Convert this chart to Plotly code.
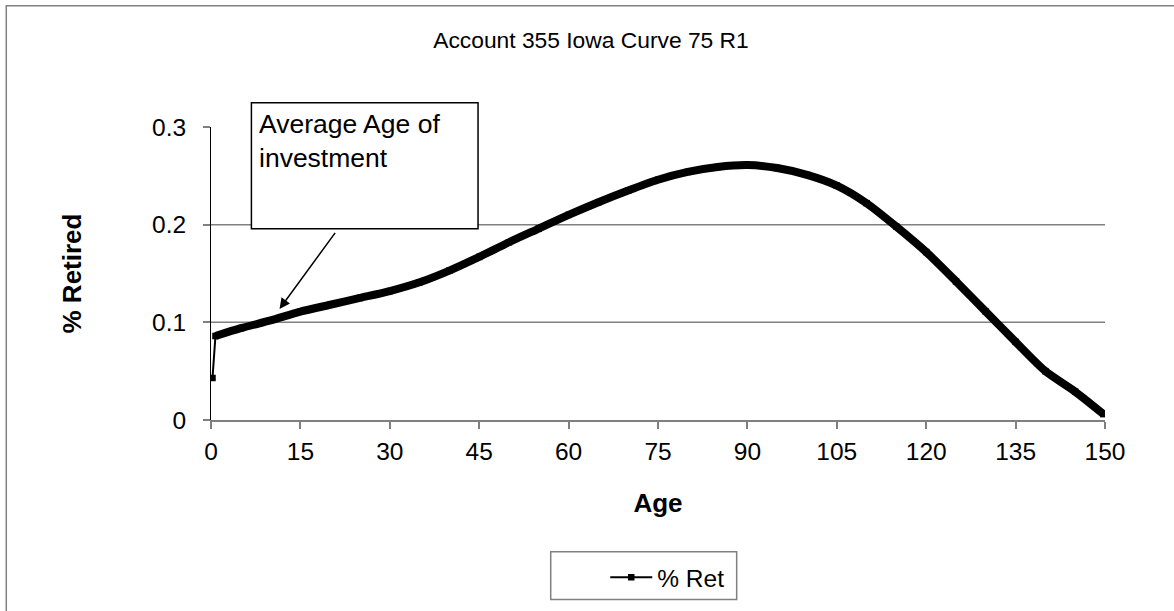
import plotly.graph_objects as go

# Data
ages = [0.25, 0.75, 5, 10, 15, 20, 25, 30, 35, 40, 45, 50, 55, 60, 65, 70, 75,
        80, 85, 90, 95, 100, 105, 110, 115, 120, 125, 130, 135, 140, 145, 149.75]
pct_retired = [0.043, 0.086, 0.094, 0.102, 0.111, 0.118, 0.125, 0.132, 0.141,
               0.153, 0.167, 0.182, 0.196, 0.210, 0.223, 0.235, 0.246, 0.254,
               0.259, 0.261, 0.258, 0.251, 0.240, 0.222, 0.198, 0.172, 0.142,
               0.111, 0.080, 0.050, 0.029, 0.006]
x_ticks = [0, 15, 30, 45, 60, 75, 90, 105, 120, 135, 150]
y_ticks = [0, 0.1, 0.2, 0.3]
grid_values = [0.1, 0.2]

FONT = "Arial, Liberation Sans, sans-serif"
FS = 24.5
GRAY = "#808080"

fig = go.Figure()

# thin line with square markers (also provides the legend entry)
fig.add_trace(go.Scatter(
    x=ages, y=pct_retired, name="% Ret", mode="lines+markers",
    line=dict(color="black", width=2),
    marker=dict(symbol="square", size=6.5, color="black"),
    showlegend=True,
))
# dense markers in the original render as a thick curve
fig.add_trace(go.Scatter(
    x=ages[1:], y=pct_retired[1:], mode="lines",
    line=dict(color="black", width=8, shape="spline", smoothing=0.7),
    showlegend=False, hoverinfo="skip",
))

shapes = []
for g in grid_values:
    shapes.append(dict(type="line", xref="x domain", yref="y", x0=0, x1=1,
                       y0=g, y1=g, line=dict(color=GRAY, width=1.5), layer="below"))
# outer chart border (extends off the right/bottom edge)
shapes.append(dict(type="rect", xref="paper", yref="paper",
                   x0=-0.229, x1=1.3, y0=-1.0, y1=1.4137,
                   line=dict(color=GRAY, width=1.5), layer="below"))
# annotation box
shapes.append(dict(type="rect", xref="paper", yref="paper",
                   x0=0.0452, x1=0.2987, y0=0.6527, y1=1.0827,
                   line=dict(color="black", width=1.5), fillcolor="white", layer="above"))
# legend frame
shapes.append(dict(type="rect", xref="paper", yref="paper",
                   x0=0.380, x1=0.588, y0=-0.6129, y1=-0.4494,
                   line=dict(color=GRAY, width=1.5), fillcolor="white", layer="below"))

annotations = [
    dict(xref="paper", yref="paper", x=0.0515, y=1.068, xanchor="left", yanchor="top",
         align="left", showarrow=False, text="Average Age of<br>investment",
         font=dict(family=FONT, size=26.5, color="black")),
    dict(xref="x", yref="y", x=11.5, y=0.1137, ax=56.7, ay=-77.6,
         text="", showarrow=True, arrowhead=2, arrowsize=1.4, arrowwidth=1.5,
         arrowcolor="black"),
]

fig.update_layout(
    width=1174, height=611, autosize=False,
    margin=dict(l=211, r=69, t=127, b=190),
    paper_bgcolor="white", plot_bgcolor="white",
    font=dict(family=FONT, size=FS, color="black"),
    title=dict(text="Account 355 Iowa Curve 75 R1", x=0.5034, y=1 - 40 / 611,
               xref="container", yref="container", xanchor="center", yanchor="middle",
               font=dict(family=FONT, size=22.8, color="black")),
    xaxis=dict(range=[0, 150], tickvals=x_ticks, ticktext=[str(v) for v in x_ticks],
               showgrid=False, zeroline=False, showline=True, linecolor=GRAY, linewidth=1.5,
               ticks="outside", ticklen=7, tickcolor=GRAY, tickwidth=1.5,
               ticklabelstandoff=2,
               title=dict(text="<b>Age</b>", standoff=30,
                          font=dict(family=FONT, size=26, color="black"))),
    yaxis=dict(range=[0, 0.3], tickvals=y_ticks, ticktext=["0", "0.1", "0.2", "0.3"],
               showgrid=False, zeroline=False, showline=True, linecolor="black", linewidth=1,
               ticks="outside", ticklen=7, tickcolor=GRAY, tickwidth=1.5,
               ticklabelstandoff=12,
               title=dict(text="<b>% Retired</b>", standoff=62,
                          font=dict(family=FONT, size=26, color="black"))),
    legend=dict(orientation="h", x=0.441, xanchor="left", y=-0.532, yanchor="middle",
                borderwidth=0, bgcolor="rgba(0,0,0,0)", itemwidth=42,
                font=dict(family=FONT, size=FS, color="black")),
    shapes=shapes, annotations=annotations,
)

fig.write_html("out.html")
